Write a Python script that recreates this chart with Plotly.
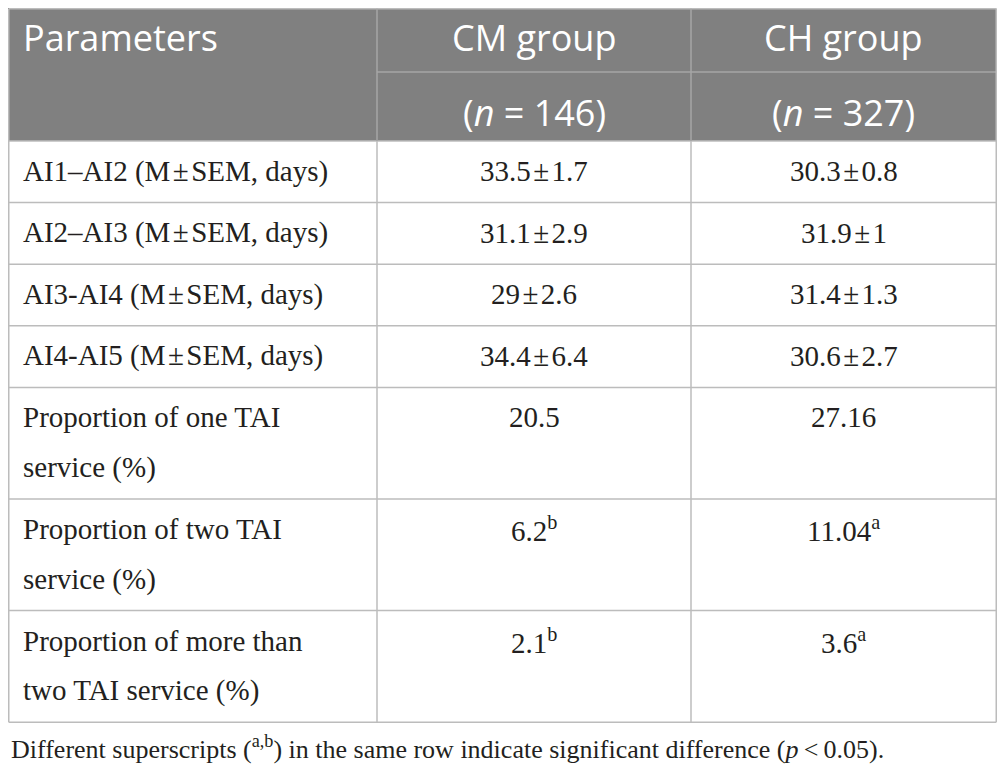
import plotly.graph_objects as go

# table content
col_titles = ["Parameters", "CM group", "CH group"]
col_counts = ["", "(<i>n</i> = 146)", "(<i>n</i> = 327)"]
parameters = [
    "AI1–AI2 (M\u200a±\u200aSEM, days)",
    "AI2–AI3 (M\u200a±\u200aSEM, days)",
    "AI3-AI4 (M\u200a±\u200aSEM, days)",
    "AI4-AI5 (M\u200a±\u200aSEM, days)",
    "Proportion of one TAI<br>service (%)",
    "Proportion of two TAI<br>service (%)",
    "Proportion of more than<br>two TAI service (%)",
]
cm_group = ["33.5\u200a±\u200a1.7", "31.1\u200a±\u200a2.9", "29\u200a±\u200a2.6", "34.4\u200a±\u200a6.4",
            "20.5", "6.2<sup>b</sup>", "2.1<sup>b</sup>"]
ch_group = ["30.3\u200a±\u200a0.8", "31.9\u200a±\u200a1", "31.4\u200a±\u200a1.3", "30.6\u200a±\u200a2.7",
            "27.16", "11.04<sup>a</sup>", "3.6<sup>a</sup>"]
footnote = ("Different superscripts (<sup>a,b</sup>) in the same row indicate "
            "significant difference (<i>p</i>\u2009<\u20090.05).")

W, H = 1005, 773
OFF = 8  # default body margin of the html page
x_lo, x_hi = OFF, W - OFF
y_lo, y_hi = OFF, H - OFF
col_edges = [x_lo + 0.75, 377, 691, x_hi - 0.75]
top = y_lo + 0.75
head_split = 72
head_bottom = 141
line_h = 50
row_pad = 11.6
grid = "#bcbcbc"
head_line = "#a6a6a6"
head_bg = "#808080"
ink = "#231f20"
serif = "Liberation Serif"
sans = "Open Sans"

fig = go.Figure()
shapes = []
annotations = []


def cell_x(i):
    if i == 0:
        return 21, "left"
    return (col_edges[i] + col_edges[i + 1]) / 2, "center"


# header block
shapes.append(dict(type="rect", x0=x_lo, x1=col_edges[-1], y0=y_lo, y1=head_bottom,
                   fillcolor=head_bg, line=dict(width=0), layer="below"))
shapes.append(dict(type="line", x0=col_edges[1], x1=col_edges[-1], y0=head_split, y1=head_split,
                   line=dict(color=head_line, width=1.5)))
for i, t in enumerate(col_titles):
    x, anchor = cell_x(i)
    annotations.append(dict(x=x, y=37, text=t, xanchor=anchor, yanchor="middle",
                            showarrow=False, font=dict(family=sans, size=36, color="white")))
    if col_counts[i]:
        annotations.append(dict(x=x, y=112, text=col_counts[i], xanchor=anchor,
                                yanchor="middle", showarrow=False,
                                font=dict(family=sans, size=36, color="white")))

# body rows
y = head_bottom
row_lines = [y]
for p, a, b in zip(parameters, cm_group, ch_group):
    n_lines = max(len(s.split("<br>")) for s in (p, a, b))
    for i, txt in enumerate((p, a, b)):
        x, anchor = cell_x(i)
        for k, part in enumerate(txt.split("<br>")):
            annotations.append(dict(x=x, y=y + 30 + k * line_h, text=part, xanchor=anchor,
                                    yanchor="middle", showarrow=False,
                                    font=dict(family=serif, size=29, color=ink)))
    y += n_lines * line_h + row_pad
    row_lines.append(y)

for ry in row_lines:
    shapes.append(dict(type="line", x0=col_edges[0], x1=col_edges[-1], y0=ry, y1=ry,
                       line=dict(color=grid, width=1.5)))
shapes.append(dict(type="line", x0=col_edges[0], x1=col_edges[-1], y0=top, y1=top,
                   line=dict(color=grid, width=1.5)))
for i, cx in enumerate(col_edges):
    outer = i in (0, len(col_edges) - 1)
    shapes.append(dict(type="line", x0=cx, x1=cx, y0=top, y1=head_bottom,
                       line=dict(color=grid if outer else head_line, width=1.5)))
    shapes.append(dict(type="line", x0=cx, x1=cx, y0=head_bottom, y1=row_lines[-1],
                       line=dict(color=grid, width=1.5)))

annotations.append(dict(x=x_lo + 0.5, y=row_lines[-1] + 25, text=footnote, xanchor="left",
                        yanchor="middle", showarrow=False,
                        font=dict(family=serif, size=26, color=ink)))

fig.update_layout(
    width=x_hi - x_lo, height=y_hi - y_lo,
    margin=dict(l=0, r=0, t=0, b=0),
    paper_bgcolor="white", plot_bgcolor="white",
    xaxis=dict(range=[x_lo, x_hi], visible=False, fixedrange=True),
    yaxis=dict(range=[y_hi, y_lo], visible=False, fixedrange=True),
    shapes=shapes, annotations=annotations,
    showlegend=False,
)
fig.write_html("out.html")
